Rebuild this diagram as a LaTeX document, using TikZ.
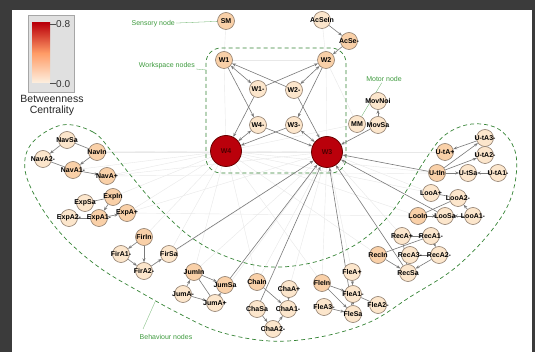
\documentclass[tikz,border=0pt]{standalone}
\usepackage{fontspec}
\setmainfont{Liberation Sans}
\usetikzlibrary{arrows.meta,backgrounds}
\definecolor{framec}{HTML}{3B3B3B}
\definecolor{nfA}{HTML}{F9D0A8}
\definecolor{nfB}{HTML}{FCE6CC}
\definecolor{nbd}{HTML}{8E7C6C}
\definecolor{wred}{HTML}{BA000B}
\definecolor{wredbd}{HTML}{6A0000}
\definecolor{annc}{HTML}{3E9B3E}
\definecolor{edgec}{HTML}{7A7A7A}
\tikzset{
 nd/.style={circle, draw=nbd, line width=0.6pt, fill=nfA, minimum size=17pt, inner sep=0pt},
 ndp/.style={nd, fill=nfB},
 bignd/.style={circle, draw=wredbd, line width=0.8pt, fill=wred, minimum size=31pt, inner sep=0pt},
 lbl/.style={font=\bfseries\fontsize{7}{7}\selectfont, text=black, inner sep=0pt},
 ed/.style={draw=edgec, line width=0.6pt, -{Stealth[length=4pt,width=3pt]}},
 edb/.style={draw=edgec, line width=0.6pt, {Stealth[length=4pt,width=3pt]}-{Stealth[length=4pt,width=3pt]}},
 ln/.style={draw=edgec, line width=0.6pt},
 fe/.style={draw=black!9, line width=0.4pt},
 grp/.style={draw=annc!85!black, dash pattern=on 4pt off 3pt, line width=0.7pt},
 annt/.style={text=annc, font=\fontsize{7}{8}\selectfont, inner sep=1pt},
 lead/.style={draw=annc!80, line width=0.3pt}
}
\newcommand\bn[4]{\node[#1] (#2) at (#3) {}; \node[lbl] (#2-l) at (#2) {#4};}
\begin{document}
\begin{tikzpicture}[x=1pt,y=-1pt]
\useasboundingbox (0,0) rectangle (535,352);

% legend
\node[draw=black!35, fill=black!12, minimum width=46pt, minimum height=77pt, inner sep=0pt] (legbox) at (51,53.5) {};
\shade[top color=wred, bottom color=nfB!60!white, middle color=orange!70!red!60!white] (32,23) rectangle (50,83);
\draw[black!70, line width=0.8pt] (50,24) -- (56,24);
\draw[black!70, line width=0.8pt] (50,83) -- (56,83);
\node[anchor=west, inner sep=0pt, font=\fontsize{10}{10}\selectfont, text=black!80] (l08) at (56,24) {0.8};
\node[anchor=west, inner sep=0pt, font=\fontsize{10}{10}\selectfont, text=black!80] (l00) at (56,84) {0.0};
\node[font=\fontsize{10.5}{11}\selectfont, text=black!85, align=center, inner sep=0pt] (legt) at (52,105) {Betweenness\\Centrality};

% nodes
\bn{nd}{SM}{226,21}{SM}
\bn{ndp}{AcSeIn}{322,20}{AcSeIn}
\bn{nd}{AcSe}{349,41}{AcSe-}
\bn{nd}{W1}{224,60}{W1}
\bn{nd}{W2}{326,60}{W2}
\bn{ndp}{W1m}{258,89}{W1-}
\bn{ndp}{W2m}{294,90}{W2-}
\bn{ndp}{W4m}{258,125}{W4-}
\bn{ndp}{W3m}{294,125}{W3-}
\node[bignd] (W4) at (226,151) {}; \node[lbl, text=black!70!red] (W4-l) at (W4) {W4};
\node[bignd] (W3) at (327,152) {}; \node[lbl, text=black!70!red] (W3-l) at (W3) {W3};
\bn{ndp}{MM}{357,124}{MM}
\bn{ndp}{MovSa}{378,125}{MovSa}
\bn{ndp}{MovNoi}{378,101}{MovNoi}
\bn{ndp}{NavSa}{67,140}{NavSa}
\bn{nd}{NavIn}{97,152}{NavIn}
\bn{ndp}{NavA2}{43,159}{NavA2-}
\bn{nd}{NavA1}{73,170}{NavA1-}
\bn{nd}{NavA}{107,176}{NavA+}
\bn{nd}{ExpIn}{113,197}{ExpIn}
\bn{ndp}{ExpSa}{85,203}{ExpSa}
\bn{ndp}{ExpA2}{69,218}{ExpA2-}
\bn{nd}{ExpA1}{99,218}{ExpA1-}
\bn{nd}{ExpA}{127,213}{ExpA+}
\bn{nd}{FirIn}{144,237}{FirIn}
\bn{ndp}{FirA1}{121,254}{FirA1-}
\bn{ndp}{FirA2}{144,271}{FirA2-}
\bn{ndp}{FirSa}{169,254}{FirSa}
\bn{nd}{JumIn}{194,272}{JumIn}
\bn{nd}{JumSa}{225,285}{JumSa}
\bn{ndp}{JumAm}{183,294}{JumA-}
\bn{ndp}{JumAp}{215,303}{JumA+}
\bn{nd}{ChaIn}{257,282}{ChaIn}
\bn{ndp}{ChaAp}{289,289}{ChaA+}
\bn{ndp}{ChaSa}{257,309}{ChaSa}
\bn{ndp}{ChaA1}{288,309}{ChaA1-}
\bn{ndp}{ChaA2}{273,329}{ChaA2-}
\bn{nd}{FleIn}{322,283}{FleIn}
\bn{ndp}{FleAp}{352,272}{FleA+}
\bn{ndp}{FleA1}{353,294}{FleA1-}
\bn{ndp}{FleA3}{324,307}{FleA3-}
\bn{ndp}{FleSa}{353,314}{FleSa}
\bn{ndp}{FleA2}{378,305}{FleA2-}
\bn{ndp}{RecAp}{402,236}{RecA+}
\bn{ndp}{RecA1}{431,236}{RecA1-}
\bn{nd}{RecIn}{378,255}{RecIn}
\bn{ndp}{RecA3}{410,255}{RecA3-}
\bn{ndp}{RecA2}{439,255}{RecA2-}
\bn{ndp}{RecSa}{408,273}{RecSa}
\bn{ndp}{UtA3}{485,138}{U-tA3-}
\bn{nd}{UtAp}{445,152}{U-tA+}
\bn{ndp}{UtA2}{485,155}{U-tA2-}
\bn{nd}{UtIn}{437,173}{U-tIn}
\bn{ndp}{UtSa}{468,173}{U-tSa}
\bn{ndp}{UtA1}{498,173}{U-tA1-}
\bn{ndp}{LooAp}{431,193}{LooA+}
\bn{ndp}{LooA2}{458,198}{LooA2-}
\bn{nd}{LooIn}{418,216}{LooIn}
\bn{ndp}{LooSa}{445,216}{LooSa}
\bn{ndp}{LooA1}{473,216}{LooA1-}

% annotations
\node[annt, anchor=east] (aSens) at (176,24) {Sensory node};
\node[annt, anchor=east] (aWork) at (196,66) {Workspace nodes};
\node[annt] (aMot) at (384,79) {Motor node};
\node[annt] (aBeh) at (166,337) {Behaviour nodes};
\coordinate (wsc) at (206,70);
\coordinate (bhc) at (155,302);
\coordinate (bhs) at (143,329);

\begin{scope}[on background layer]
\fill[framec] (0,0) rectangle (535,352);
\fill[white] (12,10) rectangle (532,352);
% faint edges
\foreach \a in {NavIn,NavA,NavA1,ExpIn,ExpA,FirIn,FirSa,JumIn,ChaIn,FleIn,RecIn,LooIn,UtIn,LooAp,MM,W3}
  \draw[fe] (W4) -- (\a);
\foreach \a in {NavA,ExpA,FirA2,JumAp,ChaIn,ChaAp,FleAp,FleIn,RecAp,LooAp,UtAp,JumIn,NavIn}
  \draw[fe] (W3) -- (\a);
\draw[fe] (SM) -- (W1); \draw[fe] (AcSeIn) -- (W2); \draw[fe] (W1) -- (W2);
\draw[fe] (W1) -- (W4); \draw[fe] (W2) -- (W3); \draw[fe] (MM) -- (W2);
\draw[fe] (NavA) -- (UtIn); \draw[fe] (ExpA) -- (LooIn);
% dashed groups
\draw[grp, rounded corners=15pt] (206,48) rectangle (346,173);
\draw[grp] plot[smooth cycle, tension=0.6] coordinates {(62,125) (93,132) (112,152) (132,177) (157,206) (192,238) (230,258) (270,267) (315,262) (355,245) (385,220) (405,193) (425,160) (445,135) (472,124) (500,130) (516,155) (512,195) (492,230) (455,268) (410,297) (370,322) (320,337) (270,341) (220,332) (180,314) (140,292) (100,268) (65,238) (40,205) (25,170) (32,143)};
% leaders
\draw[lead] (aSens) -- (SM);
\draw[lead] (aWork) -- (wsc);
\draw[lead] (aMot) -- (MM);
\draw[lead] (bhs) -- (bhc);
% workspace edges
\draw[ed] (AcSeIn) -- (AcSe);
\draw[ed] (AcSe) -- (W2);
\draw[edb] (W1) -- (W1m);
\draw[ed] (W1m) -- (W2);
\draw[edb] (W2) -- (W2m);
\draw[ed] (W2m) -- (W1);
\draw[ed] (W1) -- (W4m);
\draw[ed] (W1m) -- (W4);
\draw[ed] (W2) -- (W3m);
\draw[ed] (W2m) -- (W3);
\draw[edb] (W4) -- (W4m);
\draw[ed] (W4m) -- (W3);
\draw[edb] (W3) -- (W3m);
\draw[ed] (W3m) -- (W4);
\draw[ed] (MovSa) -- (W3);
\draw[ed] (MovSa) -- (MovNoi);
% behaviour to W3
\foreach \a in {FirSa,JumSa,ChaSa,FleSa,RecSa,LooSa,UtIn}
  \draw[ed] (\a) -- (W3);
% clusters
\draw[ed] (NavSa) -- (NavA2); \draw[ln] (NavIn) -- (NavSa); \draw[ed] (NavIn) -- (NavA1);
\draw[ln] (NavA2) -- (NavA1); \draw[ed] (NavA1) -- (NavA);
\draw[ln] (ExpIn) -- (ExpSa); \draw[ed] (ExpIn) -- (ExpA1); \draw[ln] (ExpA2) -- (ExpA1);
\draw[ed] (ExpA1) -- (ExpA);
\draw[ed] (FirIn) -- (FirA1); \draw[ed] (FirIn) -- (FirA2); \draw[ed] (FirA1) -- (FirA2);
\draw[ed] (FirA2) -- (FirSa);
\draw[ed] (JumIn) -- (JumSa); \draw[ed] (JumAm) -- (JumIn); \draw[ln] (JumIn) -- (JumAp);
\draw[ed] (JumAm) -- (JumAp); \draw[ed] (JumAp) -- (JumSa);
\draw[ed] (ChaIn) -- (ChaA1); \draw[ed] (ChaAp) -- (ChaA1); \draw[ed] (ChaSa) -- (ChaA2);
\draw[ed] (ChaA2) -- (ChaA1);
\draw[ed] (FleIn) -- (FleA1); \draw[ed] (FleIn) -- (FleSa); \draw[ed] (FleAp) -- (FleA1);
\draw[ed] (FleA1) -- (FleSa); \draw[ed] (FleA3) -- (FleSa); \draw[ln] (FleA1) -- (FleA2);
\draw[ed] (RecAp) -- (RecA1); \draw[ln] (RecIn) -- (RecA1); \draw[ed] (RecIn) -- (RecSa);
\draw[ln] (RecAp) -- (RecSa); \draw[ed] (RecA1) -- (RecA2); \draw[ln] (RecA3) -- (RecA2);
\draw[ed] (RecA2) -- (RecSa);
\draw[ed] (LooIn) -- (LooSa); \draw[ed] (LooA1) -- (LooSa); \draw[ed] (LooA1) -- (LooA2);
\draw[ln] (LooIn) -- (LooA2); \draw[ln] (LooAp) -- (LooA2);
\draw[ed] (UtIn) -- (UtA3); \draw[ed] (UtIn) -- (UtA2); \draw[ed] (UtA3) -- (UtAp);
\draw[ed] (UtIn) -- (UtSa); \draw[ed] (UtA1) -- (UtSa);
\end{scope}
\end{tikzpicture}
\end{document}
